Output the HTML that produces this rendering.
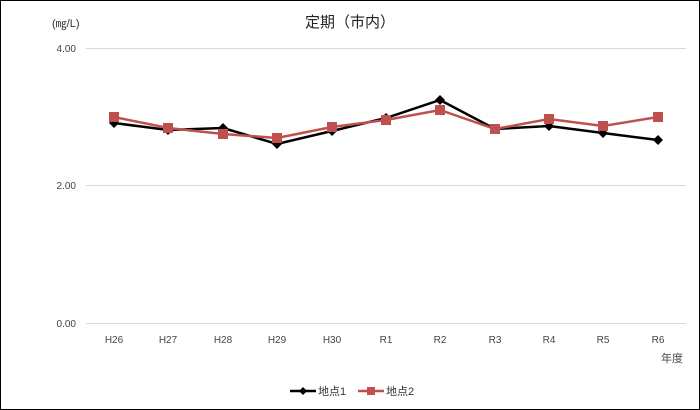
<!DOCTYPE html>
<html><head><meta charset="utf-8"><style>
html,body{margin:0;padding:0;background:#fff;}
svg{display:block;}
text{font-family:"Liberation Sans","Noto Sans CJK JP",sans-serif;}
</style></head><body>
<svg width="700" height="410" xmlns="http://www.w3.org/2000/svg">
<rect x="0.5" y="0.5" width="699" height="409" fill="#fff" stroke="#000"/>
<text x="350" y="27" font-size="15" text-anchor="middle" fill="#222">定期（市内）</text>
<text x="52" y="27" font-size="11" fill="#333">(㎎/L)</text>
<g stroke="#d9d9d9" stroke-width="1">
<line x1="86" y1="48.5" x2="686" y2="48.5"/>
<line x1="86" y1="185.5" x2="686" y2="185.5"/>
<line x1="86" y1="323.5" x2="686" y2="323.5"/>
</g>
<g font-size="10" fill="#444" text-anchor="end">
<text x="76" y="52">4.00</text>
<text x="76" y="189">2.00</text>
<text x="76" y="327">0.00</text>
</g>
<g font-size="10" fill="#444" text-anchor="middle">
<text x="114" y="343">H26</text><text x="168" y="343">H27</text><text x="223" y="343">H28</text>
<text x="277" y="343">H29</text><text x="332" y="343">H30</text><text x="386" y="343">R1</text>
<text x="440" y="343">R2</text><text x="495" y="343">R3</text><text x="549" y="343">R4</text>
<text x="603" y="343">R5</text><text x="658" y="343">R6</text>
</g>
<text x="672" y="362" font-size="11" fill="#444" text-anchor="middle">年度</text>
<polyline fill="none" stroke="#000" stroke-width="2.5" points="114,123 168,130 223,128 277,144 332,131 386,118 440,100 495,129 549,126 603,133 658,140"/>
<g fill="#000">
<path d="M114,118 l5,5 -5,5 -5,-5z"/><path d="M168,125 l5,5 -5,5 -5,-5z"/><path d="M223,123 l5,5 -5,5 -5,-5z"/>
<path d="M277,139 l5,5 -5,5 -5,-5z"/><path d="M332,126 l5,5 -5,5 -5,-5z"/><path d="M386,113 l5,5 -5,5 -5,-5z"/>
<path d="M440,95 l5,5 -5,5 -5,-5z"/><path d="M495,124 l5,5 -5,5 -5,-5z"/><path d="M549,121 l5,5 -5,5 -5,-5z"/>
<path d="M603,128 l5,5 -5,5 -5,-5z"/><path d="M658,135 l5,5 -5,5 -5,-5z"/>
</g>
<polyline fill="none" stroke="#c0504d" stroke-width="2.5" points="114,117 168,128 223,134 277,138 332,127 386,120 440,110 495,129 549,119 603,126 658,117"/>
<g fill="#c0504d">
<rect x="109" y="112" width="10" height="10"/><rect x="163" y="123" width="10" height="10"/><rect x="218" y="129" width="10" height="10"/>
<rect x="272" y="133" width="10" height="10"/><rect x="327" y="122" width="10" height="10"/><rect x="381" y="115" width="10" height="10"/>
<rect x="435" y="105" width="10" height="10"/><rect x="490" y="124" width="10" height="10"/><rect x="544" y="114" width="10" height="10"/>
<rect x="598" y="121" width="10" height="10"/><rect x="653" y="112" width="10" height="10"/>
</g>
<line x1="290" y1="391" x2="316" y2="391" stroke="#000" stroke-width="2.5"/>
<path d="M303,387 l4,4 -4,4 -4,-4z" fill="#000"/>
<text x="318" y="395" font-size="11" fill="#333">地点1</text>
<line x1="358" y1="391" x2="384" y2="391" stroke="#c0504d" stroke-width="2.5"/>
<rect x="367" y="387" width="8" height="8" fill="#c0504d"/>
<text x="386" y="395" font-size="11" fill="#333">地点2</text>
</svg>
</body></html>
